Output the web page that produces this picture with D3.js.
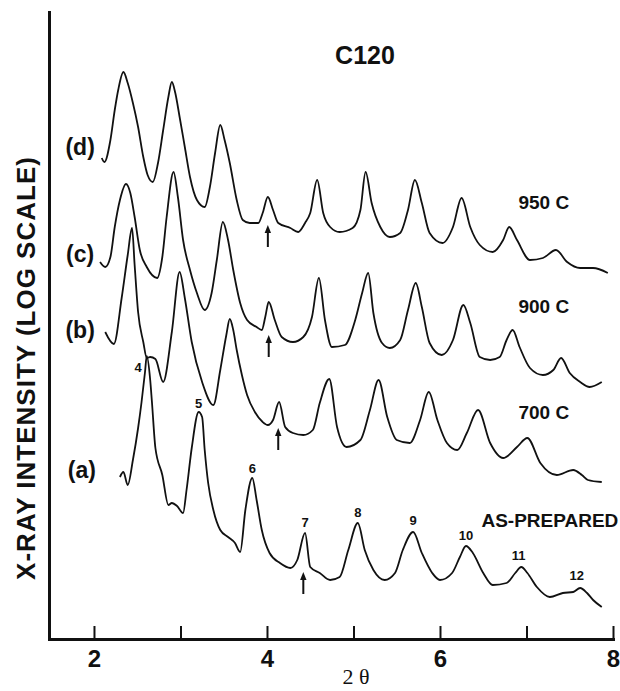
<!DOCTYPE html>
<html>
<head>
<meta charset="utf-8">
<script src="https://cdn.jsdelivr.net/npm/d3@7"></script>
<style>
body { margin: 0; background: #fff; }
svg { display: block; }
text { font-family: "Liberation Sans", Arial, sans-serif; font-weight: bold; fill: #111; }
</style>
</head>
<body>
<svg id="chart" width="620" height="691"></svg>
<script>
// 2-theta (deg) vs log intensity, arbitrary offset units
const asPrepared = [[2.30,162],[2.34,167],[2.39,154],[2.45,179],[2.51,211],[2.55,237],[2.59,267],[2.61,283],
    [2.65,259],[2.67,237],[2.71,191],[2.79,164],[2.86,134],[2.90,136],[2.96,133],[3.03,126],[3.07,149],
    [3.13,191],[3.21,227],[3.25,222],[3.28,189],[3.32,156],[3.38,129],[3.46,109],[3.55,102],[3.63,96],
    [3.69,87],[3.75,129],[3.83,161],[3.88,139],[3.94,109],[4.03,86],[4.15,76],[4.27,71],[4.35,79],
    [4.44,106],[4.50,72],[4.61,66],[4.73,59],[4.84,62],[4.94,89],[5.05,116],[5.13,89],[5.23,69],
    [5.36,59],[5.48,66],[5.57,89],[5.69,107],[5.79,86],[5.91,66],[6.00,59],[6.14,66],[6.23,82],
    [6.30,93],[6.38,86],[6.50,66],[6.61,54],[6.77,56],[6.87,66],[6.94,72],[7.01,66],[7.12,52],
    [7.27,42],[7.42,46],[7.54,47],[7.62,51],[7.70,46],[7.77,39],[7.87,32]];

const c700 = [[2.13,307],[2.23,295],[2.32,341],[2.39,384],[2.44,411],[2.47,374],[2.51,327],[2.57,297],
    [2.61,281],[2.65,282],[2.71,280],[2.80,257],[2.90,307],[2.99,367],[3.05,341],[3.13,297],[3.25,257],
    [3.38,234],[3.46,269],[3.53,304],[3.57,320],[3.61,309],[3.65,289],[3.71,264],[3.77,244],[3.86,227],
    [3.95,217],[4.01,214],[4.07,219],[4.14,237],[4.21,212],[4.30,206],[4.42,204],[4.53,209],[4.61,236],
    [4.72,260],[4.81,212],[4.92,192],[5.08,199],[5.19,229],[5.29,259],[5.39,222],[5.50,199],[5.65,196],
    [5.77,219],[5.87,247],[5.97,219],[6.08,196],[6.20,189],[6.31,206],[6.44,229],[6.58,196],[6.73,181],
    [6.89,192],[7.01,201],[7.16,176],[7.35,164],[7.54,169],[7.64,164],[7.71,159],[7.87,157]];

const c900 = [[2.07,377],[2.13,372],[2.19,382],[2.24,412],[2.30,439],[2.37,455],[2.42,446],[2.47,422],
    [2.53,389],[2.61,372],[2.73,361],[2.79,382],[2.84,422],[2.92,467],[2.97,442],[3.03,399],[3.11,369],
    [3.19,346],[3.28,329],[3.36,346],[3.42,379],[3.49,417],[3.55,399],[3.61,369],[3.69,336],[3.77,319],
    [3.88,312],[3.94,309],[3.98,322],[4.02,337],[4.09,319],[4.17,302],[4.30,297],[4.42,302],[4.52,322],
    [4.60,361],[4.67,319],[4.75,292],[4.90,294],[5.02,319],[5.10,346],[5.17,366],[5.23,326],[5.33,296],
    [5.42,291],[5.54,299],[5.63,329],[5.72,356],[5.79,332],[5.88,296],[6.02,284],[6.15,299],[6.27,334],
    [6.35,316],[6.46,282],[6.58,279],[6.69,282],[6.77,299],[6.84,309],[6.92,292],[7.04,271],[7.19,264],
    [7.31,269],[7.40,281],[7.50,266],[7.62,257],[7.73,252],[7.87,257]];

const c950 = [[2.09,481],[2.12,477],[2.19,499],[2.24,529],[2.28,549],[2.34,567],[2.39,556],[2.45,536],
    [2.51,512],[2.57,482],[2.62,464],[2.68,457],[2.74,476],[2.80,509],[2.86,542],[2.90,557],[2.94,546],
    [2.99,522],[3.05,492],[3.11,462],[3.19,439],[3.28,432],[3.34,452],[3.40,486],[3.46,514],[3.51,499],
    [3.57,476],[3.65,439],[3.72,419],[3.80,416],[3.90,416],[3.95,426],[4.01,442],[4.07,429],[4.13,416],
    [4.27,411],[4.36,407],[4.44,416],[4.50,426],[4.58,459],[4.65,426],[4.73,412],[4.84,407],[4.99,411],
    [5.08,429],[5.14,467],[5.21,436],[5.31,412],[5.42,402],[5.54,406],[5.63,429],[5.71,459],[5.79,436],
    [5.88,406],[6.03,396],[6.15,412],[6.25,441],[6.35,412],[6.46,394],[6.61,387],[6.73,399],[6.80,412],
    [6.89,399],[7.04,379],[7.19,381],[7.34,389],[7.47,377],[7.62,371],[7.77,371],[7.94,366]];

const xTicks = [2, 3, 4, 5, 6, 7, 8];
const sampleTags = ["(a)", "(b)", "(c)", "(d)"];
const sampleNames = ["AS-PREPARED", "700 C", "900 C", "950 C"];
// marked reflection (arrow) per sample: 2-theta and arrow tip level
const arrowX = [4.42, 4.13, 4.02, 4.01];
const arrowTip = [67, 211, 304, 414];
// peak order numbers on the as-prepared trace
const peakNums = ["4", "5", "6", "7", "8", "9", "10", "11", "12"];
const peakNumX = [2.51, 3.21, 3.83, 4.44, 5.05, 5.69, 6.30, 6.91, 7.58];
const peakNumY = [272, 236, 171, 117, 127, 119, 104, 84, 64];

const svg = d3.select("#chart");
const x = d3.scaleLinear().domain([1.48, 8]).range([49, 613]);
const y = d3.scaleLinear().domain([0, 627]).range([639, 12]);

// traces
const line = d3.line()
    .x(d => x(d[0]))
    .y(d => y(d[1]))
    .curve(d3.curveMonotoneX);

svg.selectAll(".trace")
    .data([asPrepared, c700, c900, c950])
    .enter().append("path")
    .attr("class", "trace")
    .attr("d", line)
    .attr("fill", "none")
    .attr("stroke", "#111")
    .attr("stroke-width", 1.8)
    .attr("stroke-linejoin", "round");

// axes
const xAxis = svg.append("g")
    .attr("transform", "translate(0,639)")
    .call(d3.axisBottom(x)
        .tickValues(xTicks)
        .tickSizeInner(-13)
        .tickSizeOuter(0)
        .tickPadding(11)
        .tickFormat(d => d % 2 === 0 ? d : ""));
xAxis.select(".domain").attr("stroke", "#111").attr("stroke-width", 3).attr("stroke-linecap", "square");
xAxis.selectAll(".tick line").attr("stroke", "#111").attr("stroke-width", 2);
xAxis.selectAll(".tick text")
    .attr("font-size", 24)
    .attr("font-family", "Liberation Sans, Arial, sans-serif")
    .attr("font-weight", "bold")
    .attr("fill", "#111");

const yAxis = svg.append("g")
    .attr("transform", "translate(49,0)")
    .call(d3.axisLeft(y).tickValues([]).tickSizeOuter(0));
yAxis.select(".domain").attr("stroke", "#111").attr("stroke-width", 3).attr("stroke-linecap", "square");

// axis titles
svg.append("text")
    .attr("transform", "translate(26,368) rotate(-90)")
    .attr("text-anchor", "middle")
    .attr("dy", "0.35em")
    .attr("font-size", 26)
    .attr("letter-spacing", 1)
    .text("X-RAY INTENSITY (LOG SCALE)");

svg.append("text")
    .attr("x", 356)
    .attr("y", 684)
    .attr("text-anchor", "middle")
    .style("font-family", "'Liberation Serif', 'DejaVu Serif', serif")
    .style("font-weight", "normal")
    .attr("font-size", 22)
    .text("2 θ");

svg.append("text")
    .attr("x", 365)
    .attr("y", 55)
    .attr("dy", "0.35em")
    .attr("text-anchor", "middle")
    .attr("font-size", 25)
    .text("C120");

// sample tags on the left, temperatures on the right
const tagPos = [[1.86, 169], [1.84, 309], [1.84, 385], [1.84, 492]];
svg.selectAll(".tag")
    .data(sampleTags)
    .enter().append("text")
    .attr("class", "tag")
    .attr("x", (d, i) => x(tagPos[i][0]))
    .attr("y", (d, i) => y(tagPos[i][1]))
    .attr("dy", "0.35em")
    .attr("text-anchor", "middle")
    .attr("font-size", 23)
    .text(d => d);

const namePos = [[7.27, 119], [7.20, 227], [7.20, 333], [7.20, 437]];
svg.selectAll(".name")
    .data(sampleNames)
    .enter().append("text")
    .attr("class", "name")
    .attr("x", (d, i) => x(namePos[i][0]))
    .attr("y", (d, i) => y(namePos[i][1]))
    .attr("dy", "0.35em")
    .attr("text-anchor", "middle")
    .attr("font-size", 19)
    .text(d => d);

// peak order numbers
svg.selectAll(".pnum")
    .data(peakNums)
    .enter().append("text")
    .attr("class", "pnum")
    .attr("x", (d, i) => x(peakNumX[i]))
    .attr("y", (d, i) => y(peakNumY[i]))
    .attr("dy", "0.35em")
    .attr("text-anchor", "middle")
    .attr("font-size", 13)
    .text(d => d);

// arrows under the marked reflection
const arrows = svg.selectAll(".arrow")
    .data(arrowX)
    .enter().append("g")
    .attr("class", "arrow")
    .attr("transform", (d, i) => `translate(${x(d)},${y(arrowTip[i])})`);
arrows.append("line")
    .attr("y1", 5).attr("y2", 22)
    .attr("stroke", "#111").attr("stroke-width", 2);
arrows.append("path")
    .attr("d", "M0,0L-3.2,8L3.2,8Z")
    .attr("fill", "#111");
</script>
</body>
</html>
